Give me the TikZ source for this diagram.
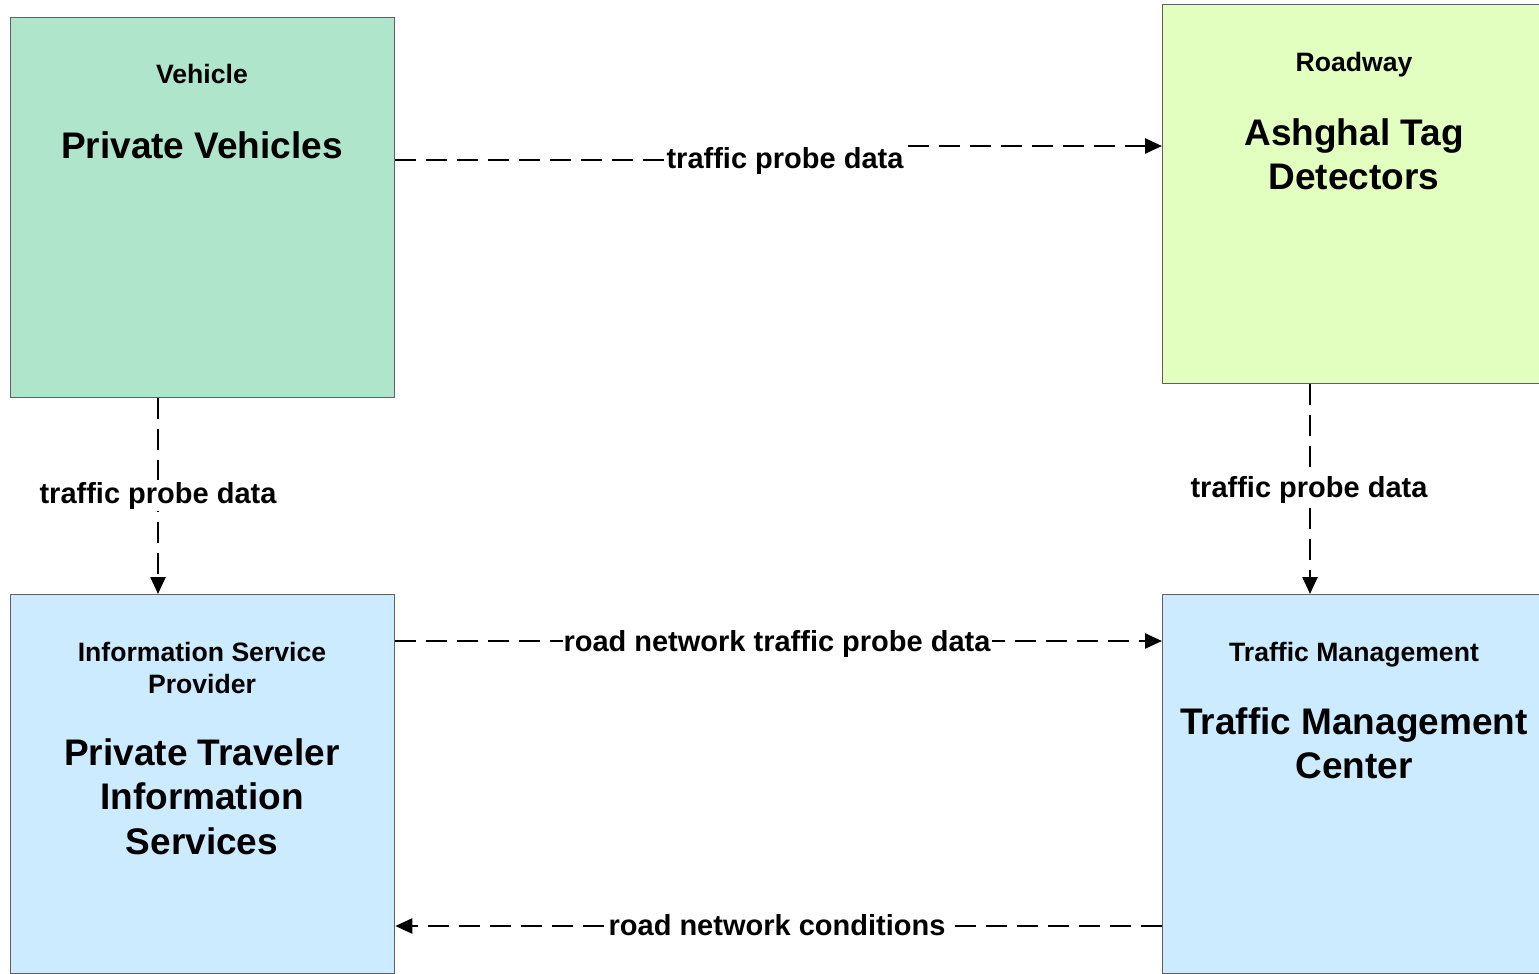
\documentclass[tikz,border=0pt]{standalone}
\usepackage{fontspec}
\setmainfont{Liberation Sans}
\usetikzlibrary{arrows.meta}
\definecolor{vehfill}{HTML}{AEE5CB}
\definecolor{rwfill}{HTML}{E3FFC0}
\definecolor{centerfill}{HTML}{CCEBFF}
\definecolor{boxline}{HTML}{606060}
\tikzset{
  entity/.style={rectangle, draw=boxline, line width=1.3pt, anchor=north west, inner sep=0pt},
  smalltitle/.style={font=\fontsize{26.6}{32}\selectfont\bfseries, inner sep=0pt, align=center},
  bigtitle/.style={font=\fontsize{37}{44.5}\selectfont\bfseries, inner sep=0pt, align=center},
  flow/.style={line width=2.4pt, dash pattern=on 21pt off 10pt, -{Triangle[length=17pt,width=15pt]}},
  flowlabel/.style={font=\fontsize{29}{35}\selectfont\bfseries, fill=white, inner xsep=1pt, inner ysep=2pt, anchor=base}
}
\begin{document}
\begin{tikzpicture}[x=1pt,y=-1pt]
\useasboundingbox (0,0) rectangle (1539,974);
\clip (0,0) rectangle (1539,974);
% boxes
\node[entity, fill=vehfill, minimum width=384pt, minimum height=380pt] (veh) at (10,17) {};
\node[entity, fill=rwfill, minimum width=384pt, minimum height=379pt] (rw) at (1162,4) {};
\node[entity, fill=centerfill, minimum width=384pt, minimum height=379pt] (isp) at (10,594) {};
\node[entity, fill=centerfill, minimum width=384pt, minimum height=379pt] (tmc) at (1162,594) {};
% helper coordinates
\coordinate (j1) at (785,160);
\coordinate (j2) at (785,146);
\coordinate (c2) at (158,0);
\coordinate (c3) at (1310,0);
\coordinate (c4) at (0,641);
\coordinate (c5) at (0,926);
% connectors
\draw[flow] (veh.east |- j1) -- (j1) -- (j2) -- (rw.west |- j2);
\draw[flow] (veh.south -| c2) -- (isp.north -| c2);
\draw[flow] (rw.south -| c3) -- (tmc.north -| c3);
\draw[flow] (isp.east |- c4) -- (tmc.west |- c4);
\draw[flow] (tmc.west |- c5) -- (isp.east |- c5);
% connector labels
\node[flowlabel] (l1) at (785,168) {traffic probe data};
\node[flowlabel] (l2) at (158,503) {traffic probe data};
\node[flowlabel] (l3) at (1309,497) {traffic probe data};
\node[flowlabel] (l4) at (777,651) {road network traffic probe data};
\node[flowlabel] (l5) at (777,935) {road network conditions};
% titles
\node[smalltitle, anchor=base] (vehT) at (202,84) {Vehicle};
\node[bigtitle, anchor=base] (vehN) at (202,158) {Private Vehicles};
\node[smalltitle, anchor=base] (rwT) at (1354,71) {Roadway};
\node[bigtitle, anchor=north] (rwN) at (1354,118) {Ashghal Tag\\Detectors};
\node[smalltitle, anchor=north] (ispT) at (202,642.5) {Information Service\\Provider};
\node[bigtitle, anchor=north] (ispN) at (202,738) {Private Traveler\\Information\\Services};
\node[smalltitle, anchor=base] (tmcT) at (1354,661) {Traffic Management};
\node[bigtitle, anchor=north] (tmcN) at (1354,707) {Traffic Management\\Center};
\end{tikzpicture}
\end{document}
